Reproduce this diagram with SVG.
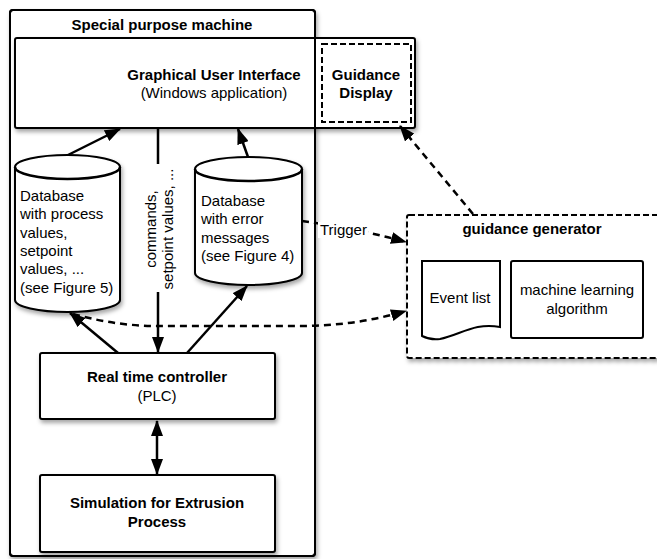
<svg xmlns="http://www.w3.org/2000/svg" width="657" height="559" viewBox="0 0 657 559">
<defs>
<filter id="sh" x="-10%" y="-10%" width="130%" height="130%">
<feDropShadow dx="1.5" dy="3" stdDeviation="2" flood-color="#000" flood-opacity="0.35"/>
</filter>
<marker id="ah" markerUnits="userSpaceOnUse" markerWidth="16" markerHeight="12" refX="15" refY="6" orient="auto">
<path d="M0,0 L16,6 L0,12 Z" fill="#000"/>
</marker>
<marker id="ahs" markerUnits="userSpaceOnUse" markerWidth="16" markerHeight="12" refX="1" refY="6" orient="auto">
<path d="M16,0 L0,6 L16,12 Z" fill="#000"/>
</marker>
</defs>
<style>
text{font-family:"Liberation Sans",Arial,sans-serif;font-size:15px;fill:#000}
.b{font-weight:bold}
.c{text-anchor:middle}
.box{fill:#fff;stroke:#000;stroke-width:2}
.dbox{fill:#fff;stroke:#000;stroke-width:2;stroke-dasharray:6,3}
.ln{fill:none;stroke:#000;stroke-width:2.5}
.dl{fill:none;stroke:#000;stroke-width:2.5;stroke-dasharray:7,5}
</style>
<rect width="657" height="559" fill="#fff"/>

<g id="machine-bg">
<rect x="10" y="10" width="305" height="546" rx="3" fill="#fff" stroke="#000" stroke-width="2" filter="url(#sh)"/>
</g>

<g id="gui">
<rect class="box" x="15" y="38" width="400" height="90" rx="2" filter="url(#sh)"/>
<text class="b c" x="214" y="80">Graphical User Interface</text>
<text class="c" x="214" y="98">(Windows application)</text>
</g>

<g id="machine">
<rect x="10" y="10" width="305" height="546" rx="3" fill="none" stroke="#000" stroke-width="2"/>
<text class="b c" x="162" y="30">Special purpose machine</text>
</g>

<g id="guidance-display">
<rect class="dbox" x="322" y="44" width="89" height="78" fill="none"/>
<text class="b c" x="366" y="80">Guidance</text>
<text class="b c" x="366" y="98">Display</text>
</g>

<g id="db-process">
<path class="box" filter="url(#sh)" d="M15,167 A52.5,12 0 0 1 120,167 L120,300 A52.5,12 0 0 1 15,300 Z"/>
<path class="ln" stroke-width="2" d="M15,167 A52.5,12 0 0 0 120,167"/>
<text x="20" y="201">Database</text>
<text x="20" y="219">with process</text>
<text x="20" y="238">values,</text>
<text x="20" y="256">setpoint</text>
<text x="20" y="274">values, ...</text>
<text x="20" y="293">(see Figure 5)</text>
</g>

<g id="db-error">
<path class="box" filter="url(#sh)" d="M195,169 A53.5,12 0 0 1 302,169 L302,273 A53.5,12 0 0 1 195,273 Z"/>
<path class="ln" stroke-width="2" d="M195,169 A53.5,12 0 0 0 302,169"/>
<text x="201" y="206">Database</text>
<text x="201" y="224">with error</text>
<text x="201" y="243">messages</text>
<text x="201" y="261">(see Figure 4)</text>
</g>

<g id="plc">
<rect class="box" x="40" y="353" width="235" height="66" rx="2" filter="url(#sh)"/>
<text class="b c" x="157" y="382">Real time controller</text>
<text class="c" x="157" y="401">(PLC)</text>
</g>

<g id="simulation">
<rect class="box" x="40" y="475" width="235" height="77" rx="2" filter="url(#sh)"/>
<text class="b c" x="157" y="508">Simulation for Extrusion</text>
<text class="b c" x="157" y="527">Process</text>
</g>

<g id="guidance-generator">
<rect class="dbox" x="407" y="215" width="262" height="143" rx="2" filter="url(#sh)"/>
<text class="b c" x="532" y="234">guidance generator</text>
</g>

<g id="event-list">
<path class="box" stroke-width="1.8" d="M422,261 L500,261 L500,327 C475,322 460,335 440,339 C432,340 426,338 422,336 Z"/>
<text class="c" x="460" y="303">Event list</text>
</g>

<g id="ml">
<rect class="box" stroke-width="1.8" x="511" y="261" width="132" height="77" rx="2"/>
<text class="c" x="577" y="295">machine learning</text>
<text class="c" x="577" y="314">algorithm</text>
</g>

<g id="connectors">
<line class="ln" x1="68" y1="155" x2="120" y2="129" marker-end="url(#ah)"/>
<line class="ln" x1="248" y1="157" x2="238" y2="129" marker-end="url(#ah)"/>
<line class="ln" x1="158" y1="128" x2="158" y2="352" marker-end="url(#ah)"/>
<rect x="142" y="164" width="36" height="128" fill="#fff"/>
<text transform="translate(156,229) rotate(-90)"><tspan class="c" x="0" y="0" text-anchor="middle">commands,</tspan><tspan x="0" y="17" text-anchor="middle">setpoint values, ...</tspan></text>
<line class="ln" x1="118" y1="353" x2="70" y2="313" marker-end="url(#ah)"/>
<line class="ln" x1="187" y1="353" x2="247" y2="286" marker-end="url(#ah)"/>
<line class="ln" x1="157" y1="421" x2="157" y2="474" marker-start="url(#ahs)" marker-end="url(#ah)"/>
<path class="dl" d="M73,314 Q120,327 165,326 L300,326 Q355,326 406,311" marker-end="url(#ah)"/>
<path class="dl" d="M302,221 Q355,228 406,242" marker-end="url(#ah)"/>
<rect x="318" y="222" width="50" height="16" fill="#fff"/>
<text x="320" y="235" font-size="14.5">Trigger</text>
<line class="dl" x1="473" y1="214" x2="400" y2="126" marker-end="url(#ah)"/>
</g>
</svg>
